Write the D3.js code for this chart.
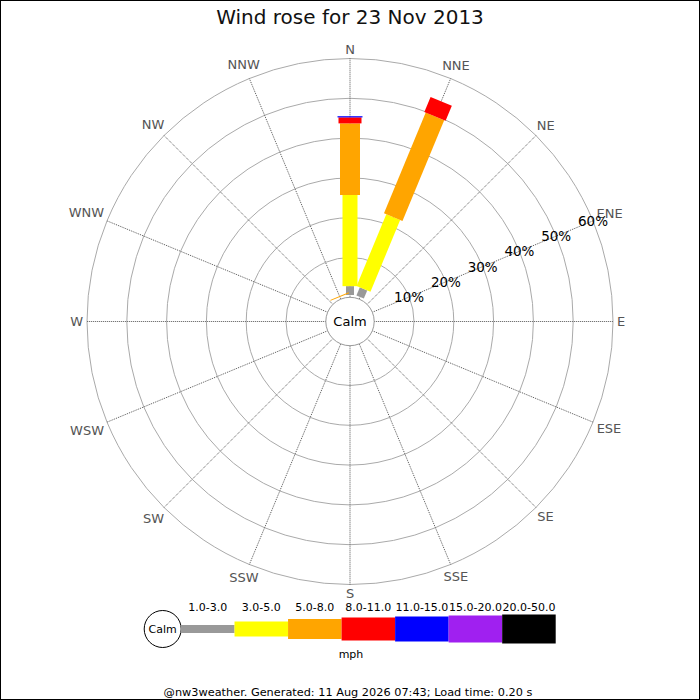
<!DOCTYPE html>
<html>
<head>
<meta charset="utf-8">
<script src="https://cdn.jsdelivr.net/npm/d3@7"></script>
<style>
  body { margin: 0; background: #fff; }
  text { font-family: "DejaVu Sans", sans-serif; }
</style>
</head>
<body>
<div id="chart"></div>
<script>
var directions = ["N","NNE","NE","ENE","E","ESE","SE","SSE","S","SSW","SW","WSW","W","WNW","NW","NNW"];
var speedBands = ["1.0-3.0","3.0-5.0","5.0-8.0","8.0-11.0","11.0-15.0","15.0-20.0","20.0-50.0"];
var bandColors = ["#999999","#ffff00","#ffa500","#ff0000","#0000ff","#a020f0","#000000"];
var ringTicks = [10, 20, 30, 40, 50, 60];

// percent of time per direction, one array per speed band (N, NNE, ... NNW)
var band1 = [2.8, 2.8, 0,0,0,0,0,0,0,0,0,0,0,0,0, 0];
var band2 = [22.9, 19.5, 0,0,0,0,0,0,0,0,0,0,0,0,0, 0];
var band3 = [18.0, 27.4, 0,0,0,0,0,0,0,0,0,0,0,0,0, 0.3];
var band4 = [1.5, 4.1, 0,0,0,0,0,0,0,0,0,0,0,0,0, 0];
var band5 = [0.3, 0, 0,0,0,0,0,0,0,0,0,0,0,0,0, 0];
var band6 = [0, 0, 0,0,0,0,0,0,0,0,0,0,0,0,0, 0];
var band7 = [0, 0, 0,0,0,0,0,0,0,0,0,0,0,0,0, 0];
var bands = [band1, band2, band3, band4, band5, band6, band7];

var titleText = "Wind rose for 23 Nov 2013";
var footerText = "@nw3weather. Generated: 11 Aug 2026 07:43; Load time: 0.20 s";

function init(){
    var w = 700, h = 700;
    var cx = 350, cy = 321.5;
    var calmR = 24.2, outerR = 263;
    var barWidths = [8, 15, 20, 23, 25, 27, 29];
    var gap = 2.3;

    var svg = d3.select("#chart")
                .append("svg")
                .attr("width", w)
                .attr("height", h);

    svg.append("rect")
        .attr("x", 0.5).attr("y", 0.5)
        .attr("width", w - 1).attr("height", h - 1)
        .attr("fill", "#fff")
        .attr("stroke", "#000");

    svg.append("text")
        .attr("x", w / 2).attr("y", 17)
        .attr("text-anchor", "middle")
        .attr("dominant-baseline", "central")
        .attr("font-size", 20)
        .attr("fill", "#111")
        .text(titleText);

    var r = d3.scaleLinear().domain([0, 60]).range([calmR, outerR]);
    var angle = d3.scaleLinear().domain([0, 16]).range([0, 360]);

    var g = svg.append("g").attr("transform", "translate(" + cx + "," + cy + ")");

    // rings
    g.selectAll("circle.ring")
        .data(ringTicks)
        .enter()
        .append("circle")
        .attr("class", "ring")
        .attr("r", function(d){ return r(d); })
        .attr("fill", "none")
        .attr("stroke", "#aaa")
        .attr("stroke-width", 1);

    // spokes
    g.selectAll("line.spoke")
        .data(directions)
        .enter()
        .append("line")
        .attr("class", "spoke")
        .attr("x1", function(d, i){ return calmR * Math.sin(angle(i) * Math.PI / 180); })
        .attr("y1", function(d, i){ return -calmR * Math.cos(angle(i) * Math.PI / 180); })
        .attr("x2", function(d, i){ return outerR * Math.sin(angle(i) * Math.PI / 180); })
        .attr("y2", function(d, i){ return -outerR * Math.cos(angle(i) * Math.PI / 180); })
        .attr("stroke", "#555")
        .attr("stroke-width", 1)
        .attr("stroke-dasharray", "1,1");

    // direction labels
    g.selectAll("text.dir")
        .data(directions)
        .enter()
        .append("text")
        .attr("class", "dir")
        .attr("text-anchor", "middle")
        .attr("dominant-baseline", "central")
        .attr("font-size", 13)
        .attr("fill", "#555")
        .text(function(d){ return d; })
        .each(function(d, i){
            var a = angle(i) * Math.PI / 180;
            var tw = this.getComputedTextLength();
            var rr = 267 + Math.abs(Math.sin(a)) * tw / 2 + Math.abs(Math.cos(a)) * 5;
            d3.select(this)
                .attr("x", rr * Math.sin(a))
                .attr("y", -rr * Math.cos(a));
        });

    // bars
    directions.forEach(function(dir, i){
        var bg = g.append("g").attr("transform", "rotate(" + angle(i) + ")");
        var cum = 0;
        bands.forEach(function(band, b){
            var v = band[i];
            if (v <= 0) return;
            var r0 = cum > 0 ? r(cum) : r(0) + gap;
            cum += v;
            var r1 = r(cum);
            if (r1 < r0 + 1) r1 = r0 + 1;
            bg.append("rect")
                .attr("x", -barWidths[b] / 2)
                .attr("y", -r1)
                .attr("width", barWidths[b])
                .attr("height", r1 - r0)
                .attr("fill", bandColors[b]);
        });
    });

    // ring labels along ENE
    var la = angle(3) * Math.PI / 180;
    g.selectAll("text.ringlab")
        .data(ringTicks)
        .enter()
        .append("text")
        .attr("class", "ringlab")
        .attr("x", function(d){ return r(d) * Math.sin(la); })
        .attr("y", function(d){ return -r(d) * Math.cos(la); })
        .attr("text-anchor", "middle")
        .attr("dominant-baseline", "central")
        .attr("font-size", 13.5)
        .attr("fill", "#000")
        .text(function(d){ return d + "%"; });

    // calm circle
    g.append("circle")
        .attr("r", calmR)
        .attr("fill", "#fff")
        .attr("stroke", "#999");
    g.append("text")
        .attr("text-anchor", "middle")
        .attr("dominant-baseline", "central")
        .attr("font-size", 13)
        .attr("fill", "#000")
        .text("Calm");

    // legend
    var ly = 629;
    var legendX = d3.scaleBand().domain(speedBands).range([181, 555.7]).padding(0);
    svg.append("circle")
        .attr("cx", 162.7).attr("cy", ly).attr("r", 18.5)
        .attr("fill", "#fff").attr("stroke", "#000");
    svg.append("text")
        .attr("x", 162.7).attr("y", ly)
        .attr("text-anchor", "middle")
        .attr("dominant-baseline", "central")
        .attr("font-size", 11)
        .text("Calm");

    svg.selectAll("rect.leg")
        .data(speedBands)
        .enter()
        .append("rect")
        .attr("class", "leg")
        .attr("x", function(d){ return legendX(d); })
        .attr("y", function(d, i){ return ly - barWidths[i] / 2; })
        .attr("width", legendX.bandwidth())
        .attr("height", function(d, i){ return barWidths[i]; })
        .attr("fill", function(d, i){ return bandColors[i]; });

    svg.selectAll("text.leg")
        .data(speedBands)
        .enter()
        .append("text")
        .attr("class", "leg")
        .attr("x", function(d){ return legendX(d) + legendX.bandwidth() / 2; })
        .attr("y", 607)
        .attr("text-anchor", "middle")
        .attr("dominant-baseline", "central")
        .attr("font-size", 11)
        .text(function(d){ return d; });

    svg.append("text")
        .attr("x", 351).attr("y", 654)
        .attr("text-anchor", "middle")
        .attr("dominant-baseline", "central")
        .attr("font-size", 11)
        .text("mph");

    svg.append("text")
        .attr("x", 348).attr("y", 692)
        .attr("text-anchor", "middle")
        .attr("dominant-baseline", "central")
        .attr("font-size", 11.3)
        .text(footerText);
}
window.onload = init;
</script>
</body>
</html>
